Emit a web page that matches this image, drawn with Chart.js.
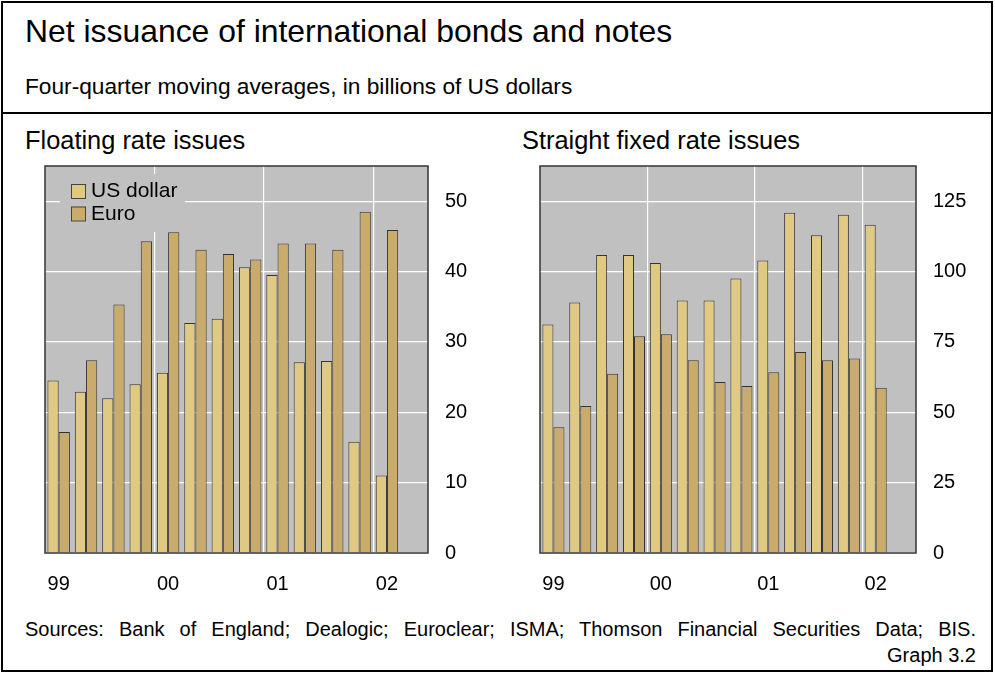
<!DOCTYPE html>
<html>
<head>
<meta charset="utf-8">
<script src="https://cdn.jsdelivr.net/npm/chart.js@4.4.1/dist/chart.umd.min.js"></script>
<style>
  body { margin: 0; width: 995px; height: 673px; position: relative; background: #fff; font-family: 'Liberation Sans', Arial, sans-serif; overflow: hidden; }
  .frame { position: absolute; left: 1px; top: 1px; width: 992px; height: 671px; border: 2px solid #000; box-sizing: border-box; }
  .sep { position: absolute; left: 1px; top: 112px; width: 992px; height: 2px; background: #000; }
  .txt { position: absolute; white-space: nowrap; color: #000; }
  #title { left: 25px; top: 16px; font-size: 31.9px; line-height: 31px; }
  #subtitle { left: 25px; top: 75px; font-size: 22.7px; line-height: 22px; }
  .panel { top: 128px; font-size: 25.4px; line-height: 25px; }
  #sources { left: 25px; top: 619px; width: 951px; font-size: 20px; line-height: 20px; text-align: justify; text-align-last: justify; white-space: normal; }
  #graphno { right: 19px; top: 645px; font-size: 20px; line-height: 20px; }
  canvas { position: absolute; }
</style>
</head>
<body>
<div class="frame"></div>
<div class="sep"></div>
<div class="txt" id="title">Net issuance of international bonds and notes</div>
<div class="txt" id="subtitle">Four-quarter moving averages, in billions of US dollars</div>
<div class="txt panel" style="left:25px">Floating rate issues</div>
<div class="txt panel" style="left:522px">Straight fixed rate issues</div>
<div class="txt" id="sources">Sources: Bank of England; Dealogic; Euroclear; ISMA; Thomson Financial Securities Data; BIS.</div>
<div class="txt" id="graphno">Graph 3.2</div>
<div style="position:absolute;left:0;top:137px;width:497px;height:468px"><canvas id="floating"></canvas></div>
<div style="position:absolute;left:497px;top:137px;width:498px;height:468px"><canvas id="fixed"></canvas></div>
<script>
// quarters 1999 Q1 .. 2002 Q2 (last slot is empty)
const quarters = ['1999Q1', '1999Q2', '1999Q3', '1999Q4', '2000Q1', '2000Q2', '2000Q3', '2000Q4',
  '2001Q1', '2001Q2', '2001Q3', '2001Q4', '2002Q1', '2002Q2'];
const yearLabels = ['99', '', '', '', '00', '', '', '', '01', '', '', '', '02', ''];

const floatingUsd = [24.5, 22.9, 22.0, 24.0, 25.6, 32.7, 33.3, 40.6, 39.5, 27.1, 27.3, 15.8, 11.0];
const floatingEuro = [17.2, 27.4, 35.3, 44.3, 45.6, 43.1, 42.5, 41.7, 44.0, 44.0, 43.1, 48.5, 45.9];
const fixedUsd = [81.2, 89.0, 105.9, 105.9, 103.0, 89.7, 89.7, 97.5, 103.9, 120.9, 112.9, 120.2, 116.6];
const fixedEuro = [44.7, 52.2, 63.7, 77.0, 77.7, 68.5, 60.8, 59.3, 64.2, 71.4, 68.5, 69.1, 58.7];

const floatingTicks = { max: 55, step: 10 };
const fixedTicks = { max: 137.5, step: 25 };

const usdColor = '#e0c982';
const euroColor = '#c9ab6c';
const plotGrey = '#c0c0c0';
const font = { family: "'Liberation Sans', Arial, sans-serif", size: 20 };

// grey plot background + frame
const plotFrame = {
  id: 'plotFrame',
  beforeDraw(chart) {
    const a = chart.chartArea, ctx = chart.ctx;
    ctx.save();
    ctx.fillStyle = plotGrey;
    ctx.fillRect(a.left, a.top, a.right - a.left, a.bottom - a.top);
    ctx.restore();
  },
  afterDraw(chart) {
    const a = chart.chartArea, ctx = chart.ctx;
    ctx.save();
    ctx.strokeStyle = '#333';
    ctx.lineWidth = 1.5;
    ctx.strokeRect(a.left, a.top, a.right - a.left, a.bottom - a.top);
    ctx.restore();
  }
};

// legend sitting inside the left plot
const innerLegend = {
  id: 'innerLegend',
  afterDatasetsDraw(chart) {
    const a = chart.chartArea, ctx = chart.ctx;
    ctx.save();
    ctx.fillStyle = plotGrey;
    ctx.fillRect(a.left + 15, a.top + 8, 125, 58);
    ctx.font = "21px 'Liberation Sans', Arial, sans-serif";
    ctx.textBaseline = 'middle';
    chart.data.datasets.forEach((ds, i) => {
      const y = a.top + 18 + i * 22.5;
      ctx.fillStyle = ds.backgroundColor;
      ctx.fillRect(a.left + 26, y, 14, 14);
      ctx.strokeStyle = '#444';
      ctx.lineWidth = 1;
      ctx.strokeRect(a.left + 26.5, y + 0.5, 14, 14);
      ctx.fillStyle = '#000';
      ctx.fillText(ds.label, a.left + 46, y + 7.5);
    });
    ctx.restore();
  }
};

function makeChart(id, usd, euro, ticks, padLeft, axisWidth, withLegend) {
  return new Chart(document.getElementById(id), {
    type: 'bar',
    plugins: withLegend ? [plotFrame, innerLegend] : [plotFrame],
    data: {
      labels: quarters,
      datasets: [
        { label: 'US dollar', data: usd, backgroundColor: usdColor, borderColor: '#333', borderWidth: 1 },
        { label: 'Euro', data: euro, backgroundColor: euroColor, borderColor: '#333', borderWidth: 1 },
      ],
    },
    options: {
      responsive: true,
      maintainAspectRatio: false,
      animation: false,
      layout: { padding: { left: padLeft, top: 10, right: 0, bottom: 0 } },
      datasets: { bar: { categoryPercentage: 0.82, barPercentage: 1.0 } },
      plugins: { legend: { display: false }, tooltip: { enabled: false } },
      scales: {
        x: {
          border: { display: false },
          grid: {
            drawTicks: false,
            color: (c) => (c.index === 4 || c.index === 8 || c.index === 12 ? '#ffffff' : 'rgba(0,0,0,0)'),
            lineWidth: 1.2,
          },
          ticks: {
            autoSkip: false, maxRotation: 0, padding: 19, color: '#000', font: font,
            callback: (v, i) => yearLabels[i],
          },
          afterFit: (s) => { s.height = 52; },
        },
        y: {
          position: 'right',
          min: 0,
          max: ticks.max,
          border: { display: false },
          grid: { drawTicks: false, color: '#ffffff', lineWidth: 1.2 },
          ticks: { stepSize: ticks.step, includeBounds: false, padding: 17, color: '#000', font: font },
          afterFit: (s) => { s.width = axisWidth; },
        },
      },
    },
  });
}

makeChart('floating', floatingUsd, floatingEuro, floatingTicks, 45, 69, true);
makeChart('fixed', fixedUsd, fixedEuro, fixedTicks, 43, 79, false);
</script>
</body>
</html>
